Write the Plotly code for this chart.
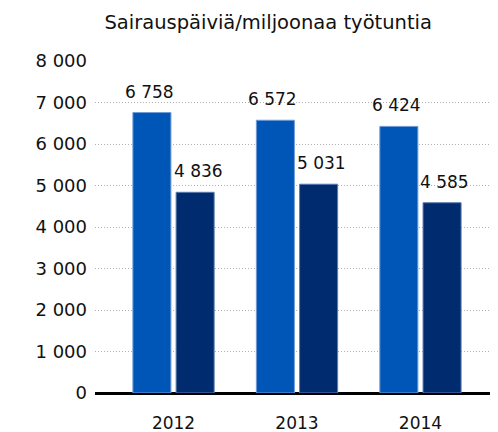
import plotly.graph_objects as go

years = ["2012", "2013", "2014"]
series_a = [6758, 6572, 6424]
series_b = [4836, 5031, 4585]
y_ticks = [0, 1000, 2000, 3000, 4000, 5000, 6000, 7000, 8000]
title = "Sairauspäiviä/miljoonaa työtuntia"

FONT = "DejaVu Sans"
fig = go.Figure()
series = [(series_a, "#0056b7", "#6f9bd6", -24), (series_b, "#002b6e", "#5a7bb0", 24.5)]
for vals, col, lc, dx in series:
    fig.add_trace(go.Bar(x=years, y=vals, marker=dict(color=col, line=dict(color=lc, width=1)),
                         hoverinfo="y"))
    for i, v in enumerate(vals):
        fig.add_annotation(x=i, y=v, xref="x", yref="y", text=f"{v:,}".replace(",", " "),
                           showarrow=False, xshift=dx, yshift=21, yanchor="middle",
                           font=dict(size=17, color="#111", family=FONT))

# page body has an 8px margin, so the figure is 8px smaller and margins shifted
fig.update_layout(
    width=490, height=424, showlegend=False,
    separators=". ",
    plot_bgcolor="white", paper_bgcolor="white",
    margin=dict(l=87, r=0, t=53, b=39),
    bargap=0.3, bargroupgap=0.12,
    font=dict(family=FONT, size=17, color="#111"),
    title=dict(text=title, x=0.531, xanchor="center", y=0.967, yanchor="middle",
               font=dict(size=19.5, family=FONT, color="#111")),
)
fig.update_xaxes(type="category", range=[-0.636, 2.628], showgrid=False, showline=False,
                 ticks="", tickfont=dict(size=17, family=FONT), ticklabelstandoff=18)
fig.update_yaxes(range=[0, 8000], tickvals=y_ticks, tickformat=",", showgrid=True,
                 gridcolor="#b0b0b0", griddash="1px,2px", gridwidth=1,
                 zeroline=True, zerolinecolor="#000", zerolinewidth=2.5,
                 ticks="", ticklabelstandoff=7, tickfont=dict(size=18, family=FONT),
                 showline=False)
fig.write_html("out.html")
